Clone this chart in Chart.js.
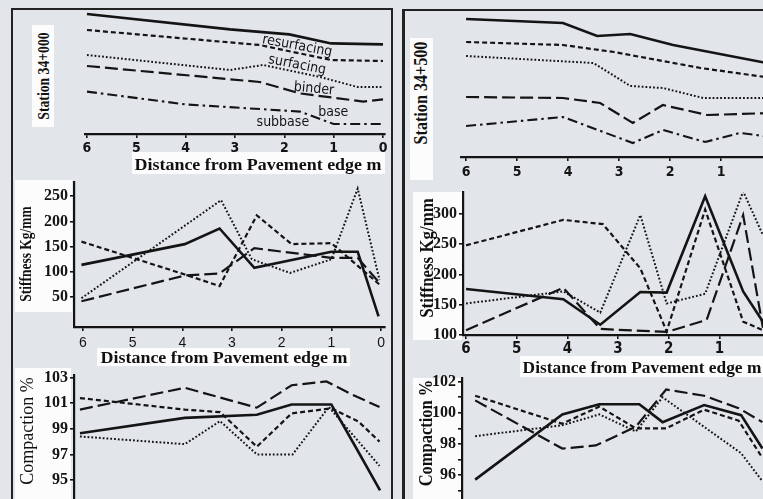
<!DOCTYPE html>
<html>
<head>
<meta charset="utf-8">
<script src="https://cdn.jsdelivr.net/npm/chart.js@4.4.1/dist/chart.umd.min.js"></script>
<style>
  html, body { margin: 0; padding: 0; width: 763px; height: 499px; overflow: hidden; background: #e2e6ea; }
  body { position: relative; }
  canvas { position: absolute; }
  .frame { position: absolute; border-color: #222; border-style: solid; box-sizing: border-box; }
  .box { position: absolute; background: #fcfcfc; }
  .lbl { position: absolute; white-space: nowrap; font-family: "Liberation Serif", "Times New Roman", serif; color: #111; line-height: 1; }
</style>
</head>
<body>
<div class="frame" style="left:11px;top:8px;width:382px;height:520px;border-width:2px 2px 0 2px;"></div>
<div class="frame" style="left:402px;top:9px;width:400px;height:520px;border-width:2px 0 0 3px;"></div>

<div class="box" style="left:32px;top:25px;width:22px;height:102px;"></div>
<div class="box" style="left:410px;top:38px;width:23px;height:142px;"></div>
<div class="box" style="left:132px;top:152px;width:253px;height:22px;"></div>
<div class="box" style="left:15px;top:180px;width:57px;height:132px;"></div>
<div class="box" style="left:97px;top:348px;width:253px;height:18px;"></div>
<div class="box" style="left:413px;top:192px;width:49px;height:148px;"></div>
<div class="box" style="left:520px;top:356px;width:243px;height:21px;"></div>
<div class="box" style="left:15px;top:368px;width:56px;height:131px;"></div>
<div class="box" style="left:413px;top:378px;width:49px;height:121px;"></div>

<script>
// ---------- Station 34+000 : layer boundaries across the pavement ----------
const tlResurfacingDist = [6, 3.1, 1.9, 1.05, 0];
const tlResurfacingDepth = [2, 9.7, 12.2, 16.7, 17.2];
const tlSurfacingDist = [6, 2.5, 1.05, 0];
const tlSurfacingDepth = [10, 17.5, 25, 25.5];
const tlBinderDist = [6, 3.1, 2.43, 1.27, 0.52, 0];
const tlBinderDepth = [22.5, 30, 27.5, 33.5, 38.5, 38.5];
const tlBaseDist = [6, 2.5, 1.68, 0.4, 0];
const tlBaseDepth = [28, 36, 41.7, 45.8, 44.7];
const tlSubbaseDist = [6, 4, 1.68, 1.0, 0];
const tlSubbaseDepth = [40.8, 47.2, 50.8, 57, 57];
const layerNames = ['resurfacing', 'surfacing', 'binder', 'base', 'subbase'];

// ---------- Station 34+500 : layer boundaries ----------
const trResurfacingDist = [6, 4.1, 3.43, 2.78, 1.94, 0];
const trResurfacingDepth = [4.5, 6.5, 13, 12, 17.5, 27];
const trSurfacingDist = [6, 4.1, 3.1, 1.4, 0];
const trSurfacingDepth = [16, 17.5, 21, 29, 34];
const trBinderDist = [6, 3.5, 2.78, 2.14, 1.35, 0];
const trBinderDepth = [23, 26.5, 38, 39, 44, 44];
const trBaseDist = [6, 4.1, 3.37, 2.73, 2.14, 1.27, 0];
const trBaseDepth = [43.5, 44, 46.5, 56.5, 47.5, 52.5, 51.5];
const trSubbaseDist = [6, 4.1, 2.73, 2.14, 1.31, 0.63, 0];
const trSubbaseDepth = [58, 53.5, 66.5, 60, 66, 61.5, 63.5];

// ---------- Stiffness, station 34+000 (Kg/mm) ----------
const mlSolidDist = [6.03, 3.95, 3.25, 2.55, 1.0, 0.47, 0.05];
const mlSolidVal = [114, 155, 186, 108, 140, 140, 12];
const mlShortDist = [6.03, 3.95, 3.25, 2.5, 1.8, 1.0, 0.03];
const mlShortVal = [160, 95, 72, 212, 155, 157, 75];
const mlDotDist = [6.03, 3.22, 2.6, 1.83, 1.0, 0.47, 0.03];
const mlDotVal = [48, 242, 125, 98, 125, 265, 84];
const mlLongDist = [6.03, 3.95, 3.25, 2.55, 1.0, 0.47, 0.03];
const mlLongVal = [42, 93, 97, 147, 128, 128, 78];
const stiffTicksLeft = [50, 100, 150, 200, 250];

// ---------- Stiffness, station 34+500 (Kg/mm) ----------
const mrSolidDist = [6, 4.08, 3.35, 2.56, 2.04, 1.28, 0.53, 0.14];
const mrSolidVal = [176, 159, 117, 171, 170, 329, 172, 122];
const mrShortDist = [6, 4.08, 3.3, 2.56, 2.04, 1.28, 0.53, 0.14];
const mrShortVal = [248, 290, 283, 210, 106, 307, 122, 108];
const mrDotDist = [6, 4.08, 3.35, 2.56, 2.04, 1.28, 0.53, 0.14];
const mrDotVal = [152, 172, 137, 298, 152, 168, 337, 265];
const mrLongDist = [6, 4.08, 3.35, 2.04, 1.25, 0.53, 0.14];
const mrLongVal = [108, 178, 110, 105, 125, 298, 112];
const stiffTicksRight = [100, 150, 200, 250, 300];

// ---------- Compaction, station 34+000 (%) ----------
const blSolidDist = [6.06, 3.95, 2.5, 1.8, 1.0, 0.5, 0.02];
const blSolidVal = [98.65, 99.85, 100.1, 100.9, 100.9, 97.5, 94.2];
const blShortDist = [6.06, 3.95, 3.24, 2.5, 1.8, 1.0, 0.45, 0.03];
const blShortVal = [101.4, 100.5, 100.3, 97.6, 100.2, 100.6, 99.55, 98.0];
const blDotDist = [6.06, 3.95, 3.24, 2.5, 1.78, 1.05, 0.03];
const blDotVal = [98.4, 97.8, 99.6, 97.0, 97.0, 100.7, 96.1];
const blLongDist = [6.06, 3.95, 2.5, 1.8, 1.1, 0.6, 0.03];
const blLongVal = [100.5, 102.2, 100.65, 102.4, 102.7, 101.7, 100.7];
const compTicksLeft = [95, 97, 99, 101, 103];

// ---------- Compaction, station 34+500 (%) ----------
const brSolidDist = [5.8, 4.08, 3.35, 2.56, 2.1, 1.28, 0.55, 0.13];
const brSolidVal = [95.7, 99.9, 100.55, 100.55, 99.4, 100.5, 99.85, 97.7];
const brShortDist = [5.8, 4.08, 3.35, 2.63, 2.03, 1.28, 0.6, 0.13];
const brShortVal = [101.1, 99.3, 100.4, 99.0, 99.0, 100.2, 99.5, 97.1];
const brDotDist = [5.8, 4.08, 3.35, 2.63, 2.1, 0.55, 0.13];
const brDotVal = [98.5, 99.2, 99.9, 98.8, 101.0, 97.4, 95.6];
const brLongDist = [5.8, 4.08, 3.42, 2.63, 2.03, 1.28, 0.6, 0.13];
const brLongVal = [100.8, 97.7, 97.9, 99.1, 101.5, 101.1, 100.3, 99.4];
const compTicksRight = [95, 96, 97, 98, 99, 100, 101, 102];

const distanceTicks = [6, 5, 4, 3, 2, 1, 0];

// ---------- drawing helpers ----------
const INK = '#141414';
const PAD = 14;

const STYLES = {
  solid:    { w: 2.6, dash: [] },
  short:    { w: 2.2, dash: [5, 3] },
  dotted:   { w: 2.0, dash: [1.8, 2] },
  long:     { w: 2.2, dash: [13, 5] },
  dashDot:  { w: 2.1, dash: [10, 4, 2.5, 4] }
};

function series(label, xs, ys, style) {
  const s = STYLES[style];
  return {
    label,
    data: xs.map((x, i) => ({ x, y: ys[i] })),
    borderColor: INK,
    borderWidth: s.w,
    borderDash: s.dash,
    pointRadius: 0,
    tension: 0,
    fill: false
  };
}

function xScale(min, max, show, font, padding) {
  return {
    type: 'linear', reverse: true, min, max, display: show,
    afterBuildTicks: s => { s.ticks = distanceTicks.filter(v => v >= min && v <= max).map(value => ({ value })); },
    afterFit: s => { s.height = 26; },
    border: { display: true, color: INK, width: 2.2 },
    grid: { display: true, drawOnChartArea: false, drawTicks: true, tickLength: 4, color: INK, lineWidth: 1.6 },
    ticks: { color: INK, font, padding, maxRotation: 0, autoSkip: false }
  };
}

function yScale(min, max, tickValues, opts) {
  opts = opts || {};
  if (!tickValues) {
    return { type: 'linear', reverse: !!opts.reverse, min, max, display: false };
  }
  return {
    type: 'linear', min, max, display: true,
    afterBuildTicks: s => { s.ticks = tickValues.map(value => ({ value })); },
    afterFit: s => { s.width = 60; },
    border: { display: true, color: INK, width: 2.2 },
    grid: { display: true, drawOnChartArea: false, drawTicks: true, tickLength: 4, color: INK, lineWidth: 1.6 },
    ticks: {
      color: INK, padding: 2, autoSkip: false,
      font: { family: '"Liberation Serif", serif', weight: 'bold', size: 16 },
      callback: opts.labelEvery ? (v => (v % opts.labelEvery === 0 ? String(v) : '')) : (v => String(v))
    }
  };
}

// Layer names written between the boundary lines
const layerLabelPlugin = {
  id: 'layerLabels',
  afterDatasetsDraw(chart, args, opts) {
    if (!opts || !opts.items) return;
    const { ctx, scales } = chart;
    ctx.save();
    ctx.fillStyle = INK;
    ctx.font = '14px "DejaVu Sans Condensed", "DejaVu Sans", sans-serif';
    ctx.textAlign = 'center';
    ctx.textBaseline = 'middle';
    opts.items.forEach(it => {
      ctx.save();
      ctx.translate(scales.x.getPixelForValue(it.d), scales.y.getPixelForValue(it.depth));
      ctx.rotate(it.angle * Math.PI / 180);
      ctx.fillText(it.text, 0, 0);
      ctx.restore();
    });
    ctx.restore();
  }
};

function makeChart(area, yWidth, datasets, scales, extraPlugins) {
  const c = document.createElement('canvas');
  const w = area.right - area.left + yWidth + 2 * PAD;
  const h = area.bottom - area.top + 26 + 2 * PAD;
  c.width = w; c.height = h;
  c.style.left = (area.left - yWidth - PAD) + 'px';
  c.style.top = (area.top - PAD) + 'px';
  c.style.width = w + 'px'; c.style.height = h + 'px';
  document.body.appendChild(c);
  return new Chart(c.getContext('2d'), {
    type: 'line',
    data: { datasets },
    options: {
      responsive: false, animation: false, events: [],
      layout: { padding: PAD },
      plugins: Object.assign({ legend: { display: false }, tooltip: { enabled: false } }, extraPlugins || {}),
      scales
    },
    plugins: [layerLabelPlugin]
  });
}

const condBold14 = { family: '"DejaVu Sans Condensed", "DejaVu Sans", sans-serif', weight: 'bold', size: 14 };
const condBold15 = { family: '"DejaVu Sans Condensed", "DejaVu Sans", sans-serif', weight: 'bold', size: 15 };
const sans14 = { family: '"Liberation Sans", Arial, sans-serif', size: 14 };

// Station 34+000 layers
makeChart({ left: 85, right: 385, top: 10, bottom: 134 }, 0, [
  series(layerNames[0], tlResurfacingDist, tlResurfacingDepth, 'solid'),
  series(layerNames[1], tlSurfacingDist, tlSurfacingDepth, 'short'),
  series(layerNames[2], tlBinderDist, tlBinderDepth, 'dotted'),
  series(layerNames[3], tlBaseDist, tlBaseDepth, 'long'),
  series(layerNames[4], tlSubbaseDist, tlSubbaseDepth, 'dashDot')
], {
  x: xScale(-0.04, 6.04, true, condBold14, 2),
  y: yScale(0, 62, null, { reverse: true })
}, {
  layerLabels: { items: [
    { text: layerNames[0], d: 1.74, depth: 18, angle: 10.5 },
    { text: layerNames[1], d: 1.74, depth: 27.5, angle: 11 },
    { text: layerNames[2], d: 1.4, depth: 39.5, angle: 5 },
    { text: layerNames[3], d: 1.01, depth: 51, angle: 0 },
    { text: layerNames[4], d: 2.03, depth: 56, angle: 0 }
  ] }
});

// Station 34+500 layers
makeChart({ left: 461, right: 772, top: 10, bottom: 157 }, 0, [
  series(layerNames[0], trResurfacingDist, trResurfacingDepth, 'solid'),
  series(layerNames[1], trSurfacingDist, trSurfacingDepth, 'short'),
  series(layerNames[2], trBinderDist, trBinderDepth, 'dotted'),
  series(layerNames[3], trBaseDist, trBaseDepth, 'long'),
  series(layerNames[4], trSubbaseDist, trSubbaseDepth, 'dashDot')
], {
  x: xScale(0, 6.1, true, condBold14, 3),
  y: yScale(0, 73.5, null, { reverse: true })
});

// Stiffness 34+000
makeChart({ left: 74, right: 385, top: 182, bottom: 327 }, 60, [
  series('solid', mlSolidDist, mlSolidVal, 'solid'),
  series('short dash', mlShortDist, mlShortVal, 'short'),
  series('dotted', mlDotDist, mlDotVal, 'dotted'),
  series('long dash', mlLongDist, mlLongVal, 'long')
], {
  x: xScale(-0.08, 6.18, true, sans14, 4),
  y: yScale(-9, 278, stiffTicksLeft)
});

// Stiffness 34+500
makeChart({ left: 463, right: 770, top: 192, bottom: 335 }, 60, [
  series('solid', mrSolidDist, mrSolidVal, 'solid'),
  series('short dash', mrShortDist, mrShortVal, 'short'),
  series('dotted', mrDotDist, mrDotVal, 'dotted'),
  series('long dash', mrLongDist, mrLongVal, 'long')
], {
  x: xScale(0, 6.06, true, condBold15, 1),
  y: yScale(100, 336, stiffTicksRight)
});

// Compaction 34+000
makeChart({ left: 74, right: 385, top: 375, bottom: 505 }, 60, [
  series('solid', blSolidDist, blSolidVal, 'solid'),
  series('short dash', blShortDist, blShortVal, 'short'),
  series('dotted', blDotDist, blDotVal, 'dotted'),
  series('long dash', blLongDist, blLongVal, 'long')
], {
  x: xScale(-0.08, 6.18, false, sans14, 4),
  y: yScale(93.05, 103.2, compTicksLeft)
});

// Compaction 34+500
makeChart({ left: 462, right: 769, top: 378, bottom: 505 }, 60, [
  series('solid', brSolidDist, brSolidVal, 'solid'),
  series('short dash', brShortDist, brShortVal, 'short'),
  series('dotted', brDotDist, brDotVal, 'dotted'),
  series('long dash', brLongDist, brLongVal, 'long')
], {
  x: xScale(0, 6.06, false, condBold15, 1),
  y: yScale(94.07, 102.24, compTicksRight, { labelEvery: 2 })
});

// ---------- axis titles ----------
const titles = [
  { text: 'Station 34+000', cx: 43, cy: 76, len: 87, size: 17, weight: 'bold', rot: -90 },
  { text: 'Station 34+500', cx: 421, cy: 93, len: 103, size: 18, weight: 'bold', rot: -90 },
  { text: 'Stiffness Kg/mm', cx: 25, cy: 254, len: 95, size: 17, weight: 'bold', rot: -90 },
  { text: 'Stiffness Kg/mm', cx: 426, cy: 258, len: 120, size: 19, weight: 'bold', rot: -90 },
  { text: 'Compaction %', cx: 27, cy: 431, len: 107, size: 18, weight: 'normal', rot: -90 },
  { text: 'Compaction %', cx: 426, cy: 433, len: 107, size: 18, weight: 'bold', rot: -90 },
  { text: 'Distance from Pavement edge m', cx: 258, cy: 164, len: 247, size: 17, weight: 'bold', rot: 0 },
  { text: 'Distance from Pavement edge m', cx: 224, cy: 357, len: 247, size: 17, weight: 'bold', rot: 0 },
  { text: 'Distance from Pavement edge m', cx: 642, cy: 367, len: 239, size: 17, weight: 'bold', rot: 0 }
];
titles.forEach(t => {
  const el = document.createElement('div');
  el.className = 'lbl';
  el.textContent = t.text;
  el.style.fontSize = t.size + 'px';
  el.style.fontWeight = t.weight;
  el.style.left = t.cx + 'px';
  el.style.top = t.cy + 'px';
  document.body.appendChild(el);
  const k = t.len / el.offsetWidth;
  el.style.transform = `translate(-50%, -50%) rotate(${t.rot}deg) scaleX(${k.toFixed(3)})`;
});
</script>
</body>
</html>
